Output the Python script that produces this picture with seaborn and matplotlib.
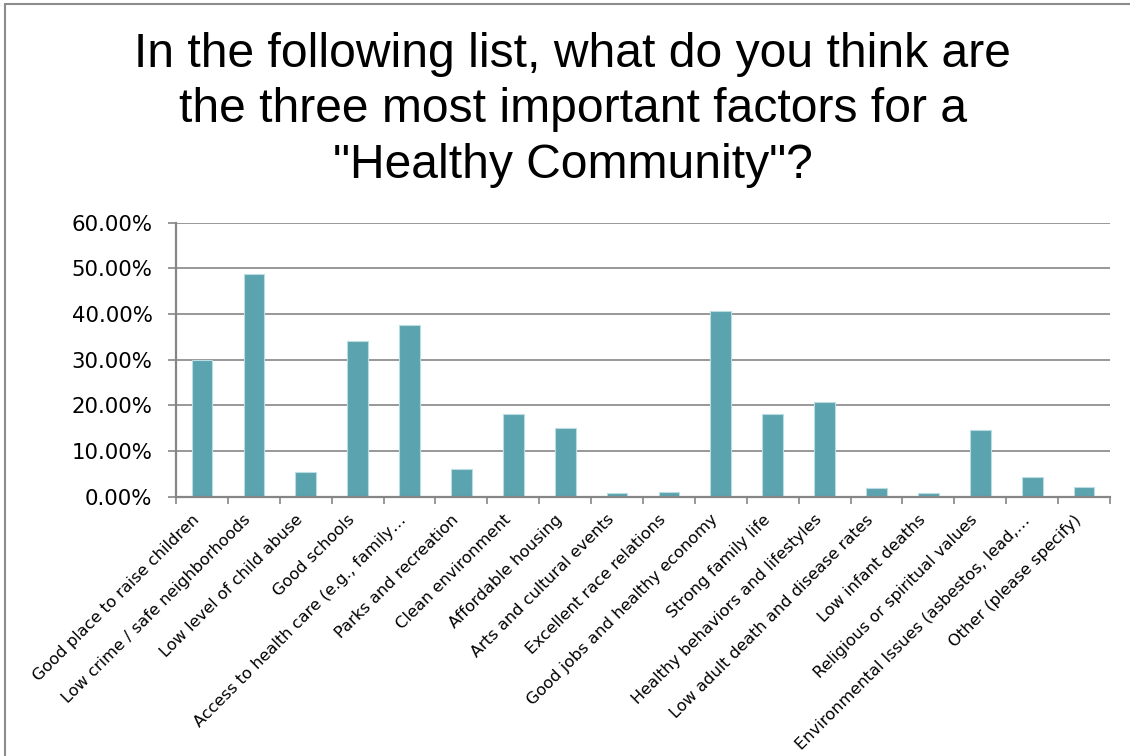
import matplotlib
matplotlib.use("Agg")
import matplotlib.pyplot as plt
import seaborn as sns
from matplotlib.ticker import PercentFormatter, FixedLocator, MultipleLocator
from matplotlib.patches import Rectangle

# Survey responses: share of respondents choosing each factor (percent)
factors = [
    "Good place to raise children",
    "Low crime / safe neighborhoods",
    "Low level of child abuse",
    "Good schools",
    "Access to health care (e.g., family\u2026",
    "Parks and recreation",
    "Clean environment",
    "Affordable housing",
    "Arts and cultural events",
    "Excellent race relations",
    "Good jobs and healthy economy",
    "Strong family life",
    "Healthy behaviors and lifestyles",
    "Low adult death and disease rates",
    "Low infant deaths",
    "Religious or spiritual values",
    "Environmental Issues (asbestos, lead,\u2026",
    "Other (please specify)",
]
shares = [30.0, 48.7, 5.3, 34.0, 37.5, 6.1, 18.0, 15.0, 0.8, 1.1,
          40.7, 18.1, 20.8, 1.9, 0.8, 14.6, 4.3, 2.1]

title = ('In the following list, what do you think are\n'
         'the three most important factors for a\n'
         '"Healthy Community"?')

sns.set_theme(style="white")
plt.rcParams['font.family'] = ['DejaVu Sans']

bar_color = "#5BA3AF"
grid_color = "#868686"

fig = plt.figure(figsize=(11.3, 7.56), dpi=100)
ax = fig.add_axes([0.1558, 0.343, 0.8265, 0.3624])

sns.barplot(x=factors, y=shares, color=bar_color, width=0.4,
            edgecolor="#B9DDE3", linewidth=0.8, saturation=1, ax=ax)

ax.set_ylim(0, 60)
ax.set_xlim(-0.5, len(factors) - 0.5)
ax.yaxis.set_major_locator(MultipleLocator(10))
ax.yaxis.set_major_formatter(PercentFormatter(xmax=100, decimals=2))
ax.grid(axis="y", color=grid_color, linewidth=1.2)
ax.set_axisbelow(True)

for side in ("top", "right"):
    ax.spines[side].set_visible(False)
for side in ("left", "bottom"):
    ax.spines[side].set_color(grid_color)
    ax.spines[side].set_linewidth(1.6)

# category labels at bar centres, tick marks on category boundaries
ax.set_xticks(range(len(factors)))
ax.set_xticklabels(factors, rotation=45, ha="right", rotation_mode="default",
                   fontsize=11.7, color="black")
ax.xaxis.set_minor_locator(FixedLocator([i - 0.5 for i in range(len(factors) + 1)]))
ax.tick_params(axis="x", which="major", length=0, pad=11)
ax.tick_params(axis="x", which="minor", bottom=True, length=5, width=1.2,
               color=grid_color)
ax.tick_params(axis="y", which="major", left=True, length=6, width=1.2,
               color=grid_color, pad=11, labelsize=15.3, labelcolor="black")
ax.set_xlabel("")
ax.set_ylabel("")

fig.text(0.507, 0.958, title, ha="center", va="top", fontsize=34.6,
         family=["Liberation Sans", "DejaVu Sans"], linespacing=1.3,
         color="black")

# slide frame
fig.add_artist(Rectangle((0.0045, -0.2), 1.5, 1.1947, transform=fig.transFigure,
                         fill=False, edgecolor="#8C8C8C", linewidth=1.5))

fig.savefig("out.png", dpi=100, facecolor="white")
